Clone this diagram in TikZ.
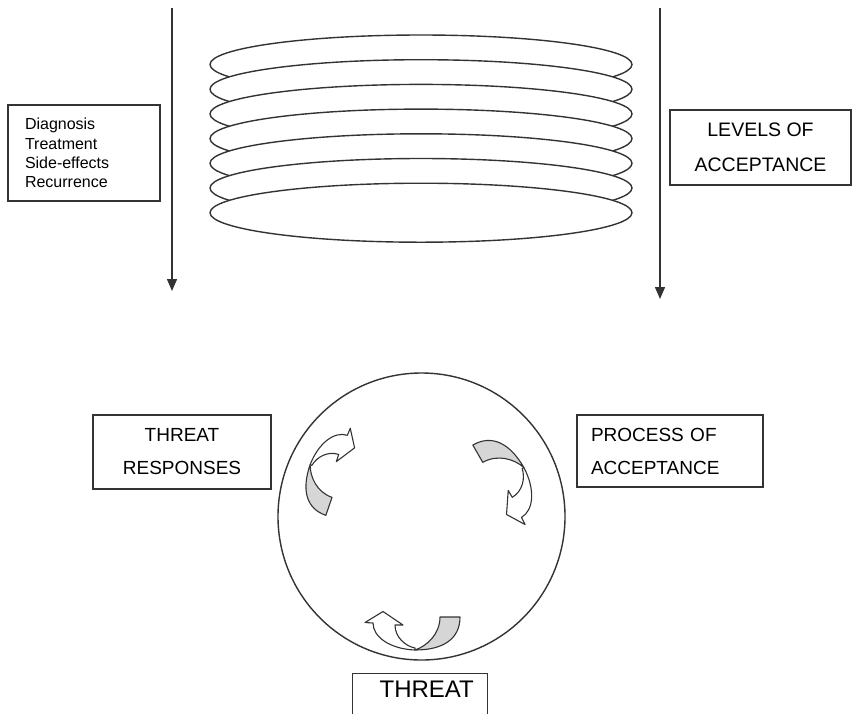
\documentclass[tikz,border=0pt]{standalone}
\usepackage{fontspec}
\setmainfont{Liberation Sans}
\usetikzlibrary{arrows.meta}
\definecolor{ink}{HTML}{333333}
\definecolor{shade}{HTML}{D6D6D6}
\tikzset{
  lbox/.style={draw=ink, line width=1.4pt, fill=white, inner sep=0pt},
  disc/.style={draw=ink, line width=1.4pt, fill=white},
  down/.style={draw=ink, line width=1.4pt, -{Triangle[width=10pt,length=12pt]}},
  backpart/.style={draw=ink, line width=1.1pt, fill=shade, line join=round},
  frontpart/.style={draw=ink, line width=1.1pt, fill=white, line join=round},
}
% one curved block arrow, drawn about its crossing point (0,0)
\newcommand{\curvedblockarrow}{%
  \path[backpart] (25,-32) -- (45,-32) .. controls (45,-10) and (28,1) .. (0,1)
     .. controls (12,-3) and (25,-15) .. (25,-32) -- cycle;
  \path[frontpart] (0,1) .. controls (-25,0) and (-42,-12) .. (-42,-26) -- (-50,-26.5)
     -- (-32,-37.5) -- (-12,-24) -- (-20,-24) .. controls (-20,-12) and (-10,-3) .. (0,-1) -- cycle;
}
\begin{document}
\begin{tikzpicture}[x=1pt,y=1pt,yscale=-1]
\useasboundingbox (0,0) rectangle (853,713);
% stacked ellipses
\foreach \k in {0,...,6}{
  \path[disc] (421,{64.5+24.7*\k}) ellipse [x radius=211, y radius=29.5];
}
% vertical arrows
\coordinate (la0) at (172,8);
\coordinate (la1) at (172,291);
\coordinate (ra0) at (660,8);
\coordinate (ra1) at (660,299);
\draw[down] (la0) -- (la1);
\draw[down] (ra0) -- (ra1);
% boxes
\node[lbox, minimum width=152pt, minimum height=96pt, text width=118pt, align=left,
      font=\fontsize{16}{19.2}\selectfont, inner xsep=17pt] (events) at (84,153)
  {Diagnosis\\Treatment\\Side-effects\\Recurrence};
\node[lbox, minimum width=181pt, minimum height=75pt, align=center,
      font=\fontsize{19.5}{35}\selectfont] (levels) at (760.5,147.5)
  {LEVELS OF\\ACCEPTANCE};
\node[lbox, minimum width=178pt, minimum height=74pt, align=center,
      font=\fontsize{19}{33}\selectfont] (resp) at (182,452)
  {THREAT\\RESPONSES};
\node[lbox, minimum width=186pt, minimum height=72pt, text width=158pt, align=left,
      inner xsep=14pt, font=\fontsize{19}{33}\selectfont] (proc) at (670,451)
  {PROCESS OF\\ACCEPTANCE};
% circle
\node[disc, circle, minimum size=287pt, inner sep=0pt] (cyc) at (421.5,516.5) {};
% threat box
\node[lbox, minimum width=135pt, minimum height=60pt, anchor=north west,
      text depth=29pt, inner xsep=0pt, font=\fontsize{24}{28}\selectfont] (threat) at (352,673)
  {\hspace*{13pt}THREAT};
% curved arrows inside the circle
\begin{scope}[xshift=415pt, yshift=649pt]
  \curvedblockarrow
\end{scope}
\begin{scope}[xshift=311pt, yshift=465pt, rotate=109, scale=0.95]
  \curvedblockarrow
\end{scope}
\begin{scope}[xshift=523pt, yshift=468pt, rotate=-120]
  \curvedblockarrow
\end{scope}
\end{tikzpicture}
\end{document}
